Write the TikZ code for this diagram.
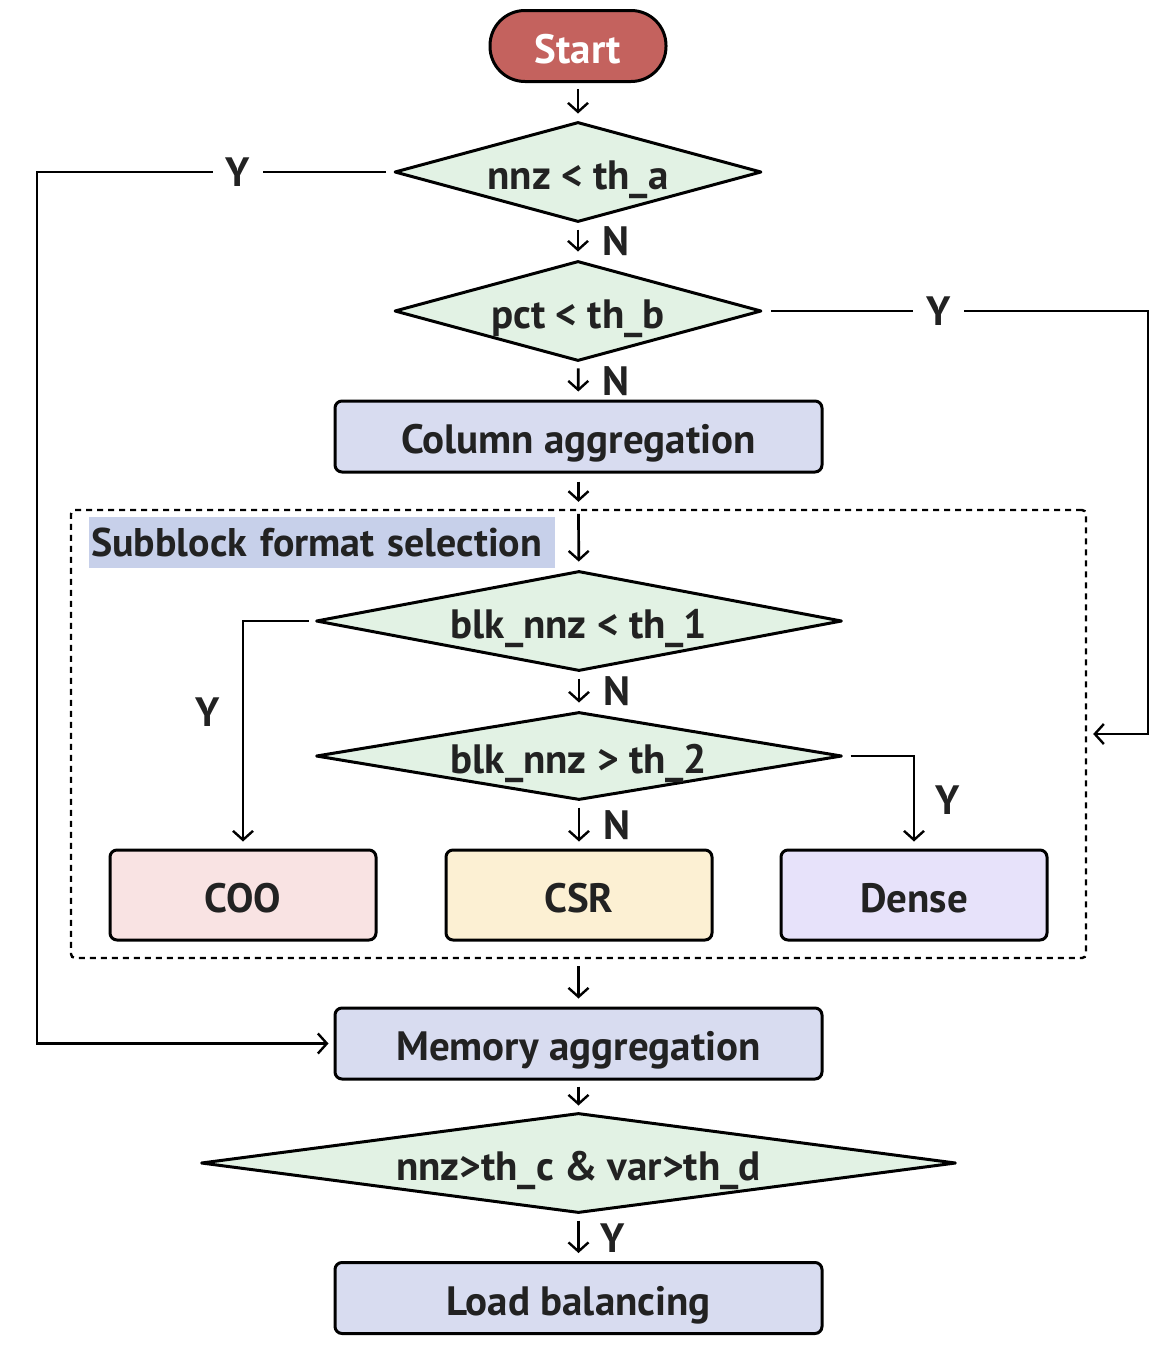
\documentclass[tikz,border=0pt]{standalone}
\usepackage{fontspec}
\setmainfont{PT Sans}
\usetikzlibrary{shapes.geometric,arrows.meta,calc}
\definecolor{startc}{HTML}{C4625E}
\definecolor{procc}{HTML}{D8DCF0}
\definecolor{decc}{HTML}{E2F2E4}
\definecolor{cooc}{HTML}{F9E3E3}
\definecolor{csrc}{HTML}{FCF0D3}
\definecolor{densec}{HTML}{E7E2FA}
\definecolor{labc}{HTML}{C7D0EA}
\definecolor{txt}{HTML}{222222}
\tikzset{
  base/.style={draw=black, line width=3pt, text=txt, font=\fontsize{41}{46}\selectfont\bfseries, inner sep=0pt, text height=35pt, text depth=1pt},
  startbox/.style={base, fill=startc, text=white, rounded corners=35pt, minimum width=176pt, minimum height=71pt},
  procbox/.style={base, fill=procc, rounded corners=7pt, minimum width=487pt, minimum height=71pt},
  fmtbox/.style={base, rounded corners=7pt, minimum width=266pt, minimum height=90pt},
  decbox/.style={base, fill=decc, diamond, line join=round, minimum width=367pt, minimum height=100pt, aspect=3.67},
  conn/.style={line width=2.7pt, draw=black},
  arr/.style={conn, -{Straight Barb[length=9pt,width=20pt,line width=2.4pt]}},
  lab/.style={text=txt, font=\fontsize{41}{46}\selectfont\bfseries, inner sep=0pt},
}
\begin{document}
\begin{tikzpicture}[x=1pt,y=-1pt]
\useasboundingbox (0,0) rectangle (1160,1350);
% nodes
\node[startbox] (start) at (578,46) {Start};
\node[decbox] (d1) at (578,172) {nnz < th\_a};
\node[decbox] (d2) at (578,311) {pct < th\_b};
\node[procbox] (col) at (578.5,436.5) {Column aggregation};
\node[draw=black, line width=2.4pt, dash pattern=on 6pt off 5pt, rounded corners=4pt, minimum width=1015pt, minimum height=448pt, inner sep=0pt] (sub) at (578.5,734) {};
\node[lab, font=\fontsize{40}{44}\selectfont\bfseries, fill=labc, anchor=west, minimum height=51pt, minimum width=466pt, inner xsep=2pt, text width=462pt, align=left, text height=31pt, text depth=4pt] (sublab) at (89,542.5) {Subblock format selection};
\node[decbox, minimum width=526pt, aspect=5.26] (d3) at (579,621) {blk\_nnz < th\_1};
\node[decbox, minimum width=526pt, minimum height=88pt, aspect=5.98] (d4) at (579,756) {blk\_nnz > th\_2};
\node[fmtbox, fill=cooc] (coo) at (243,895) {COO};
\node[fmtbox, fill=csrc] (csr) at (579,895) {CSR};
\node[fmtbox, fill=densec] (dense) at (914,895) {Dense};
\node[procbox] (mem) at (578.5,1043.5) {Memory aggregation};
\node[decbox, minimum width=755pt, aspect=7.55] (d5) at (578.5,1163) {nnz>th\_c \& var>th\_d};
\node[procbox] (load) at (578.5,1298) {Load balancing};
\coordinate (lx) at (37,172);
\coordinate (rx) at (1148,311);
% connectors
\draw[arr, shorten <=6pt, shorten >=7pt] (start) -- (d1);
\draw[arr, shorten <=6pt, shorten >=8pt] (d1) -- node[lab, xshift=38pt]{N} (d2);
\draw[arr, shorten <=6pt, shorten >=8pt] (d2) -- node[lab, xshift=38pt]{N} (col);
\draw[arr, shorten <=8pt, shorten >=7pt] (col) -- (sub.north);
\draw[arr, shorten <=5pt, shorten >=8pt] (sub.north) -- (d3);
\draw[arr, shorten <=6pt, shorten >=8pt] (d3) -- node[lab, xshift=38pt]{N} (d4);
\draw[arr, shorten <=6pt, shorten >=7pt] (d4) -- node[lab, xshift=38pt]{N} (csr);
\draw[arr, shorten <=7pt, shorten >=8pt] (sub.south) -- (mem);
\draw[arr, shorten <=6pt, shorten >=6pt] (mem) -- (d5);
\draw[arr, shorten <=6pt, shorten >=8pt] (d5) -- node[lab, xshift=34pt]{Y} (load);
\draw[arr, shorten <=7pt, shorten >=5pt] (d1.west) -- node[lab, fill=white, pos=0.436, inner xsep=13pt, inner ysep=4pt]{Y} (lx) |- (mem.west);
\draw[arr, shorten <=8pt, shorten >=6pt] (d2.east) -- node[lab, fill=white, pos=0.456, inner xsep=13pt, inner ysep=4pt]{Y} (rx) |- (sub.east);
\draw[arr, shorten <=6pt, shorten >=7pt] (d3.west) -| node[lab, pos=0.7, xshift=-35pt]{Y} (coo.north);
\draw[arr, shorten <=7pt, shorten >=7pt] (d4.east) -| node[lab, pos=0.74, xshift=34pt]{Y} (dense.north);
\end{tikzpicture}
\end{document}
